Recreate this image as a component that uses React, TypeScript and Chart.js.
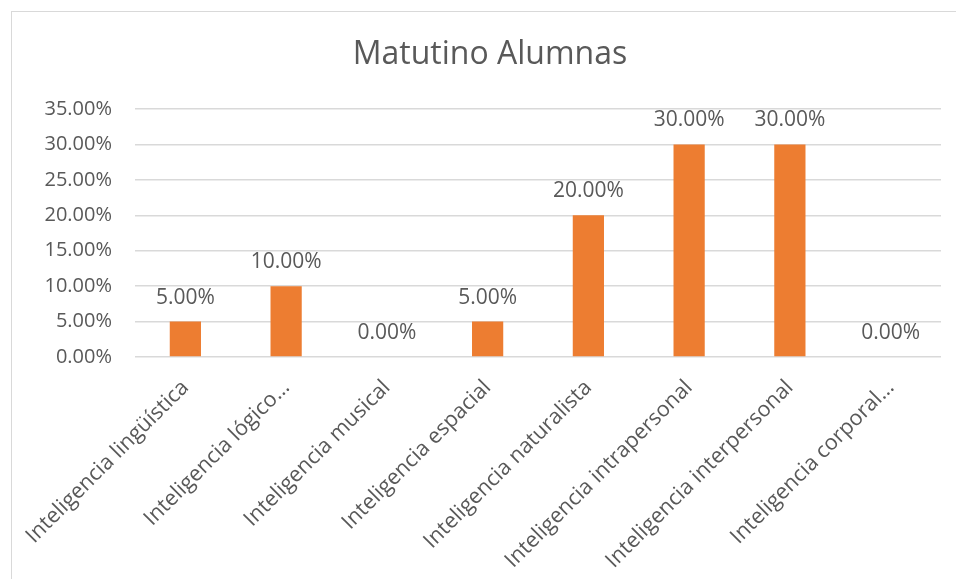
import React, { useEffect, useRef } from "react";
import { Chart, registerables } from "chart.js";

Chart.register(...registerables);

const categories = [
  "Inteligencia lingüística",
  "Inteligencia lógico…",
  "Inteligencia musical",
  "Inteligencia espacial",
  "Inteligencia naturalista",
  "Inteligencia intrapersonal",
  "Inteligencia interpersonal",
  "Inteligencia corporal…",
];
const values = [0.05, 0.1, 0, 0.05, 0.2, 0.3, 0.3, 0];
const yMin = 0;
const yMax = 0.35;
const yStep = 0.05;
const title = "Matutino Alumnas";

const FONT = "'Segoe UI', 'Open Sans', sans-serif";
const TEXT = "#595959";
const fmt = (v: number) => (v * 100).toFixed(2) + "%";

const labelPlugin = {
  id: "valueLabels",
  afterDatasetsDraw(chart: any) {
    const ctx = chart.ctx;
    ctx.save();
    ctx.font = `21px ${FONT}`;
    ctx.fillStyle = TEXT;
    ctx.textAlign = "center";
    ctx.textBaseline = "alphabetic";
    chart.data.datasets.forEach((ds: any, i: number) => {
      const meta = chart.getDatasetMeta(i);
      meta.data.forEach((el: any, j: number) => {
        ctx.fillText(fmt(ds.data[j]), el.x, el.y - 18);
      });
    });
    ctx.restore();
  },
};

export default function App() {
  const ref = useRef<HTMLCanvasElement | null>(null);
  useEffect(() => {
    if (!ref.current) return;
    const chart = new Chart(ref.current, {
      type: "bar",
      data: {
        labels: categories,
        datasets: [
          {
            data: values,
            backgroundColor: "#ED7D31",
            borderWidth: 0,
            categoryPercentage: 1,
            barPercentage: 0.31,
            yAxisID: "y",
          },
        ],
      },
      plugins: [labelPlugin],
      options: {
        responsive: false,
        animation: false,
        layout: { padding: 0 },
        plugins: {
          legend: { display: false },
          tooltip: { enabled: false },
          title: {
            display: true,
            text: title,
            color: TEXT,
            font: { family: FONT, size: 32, weight: "normal", lineHeight: 1.2 },
            padding: { top: 24, bottom: 34.6 },
          },
        },
        scales: {
          x: {
            grid: { display: false },
            border: { display: false },
            ticks: {
              color: TEXT,
              font: { family: FONT, size: 21.5 },
              minRotation: 45,
              maxRotation: 45,
              autoSkip: false,
              padding: 10,
            },
            afterFit: (scale: any) => {
              scale.height = 225;
            },
          },
          y: {
            min: yMin,
            max: yMax,
            grid: { color: "#d9d9d9", lineWidth: 1.5, drawTicks: false },
            border: { display: false },
            ticks: {
              stepSize: yStep,
              color: TEXT,
              font: { family: FONT, size: 20 },
              padding: 23,
              callback: (v: any) => fmt(Number(v)),
            },
            afterFit: (scale: any) => {
              scale.width = 123;
            },
          },
          yRight: {
            type: "linear",
            position: "right",
            display: true,
            grid: { display: false, drawTicks: false },
            border: { display: false },
            ticks: { display: false },
            afterFit: (scale: any) => {
              scale.width = 27;
            },
          },
        },
      },
    });
    return () => chart.destroy();
  }, []);
  return (
    <div
      style={{
        position: "fixed",
        left: 11,
        top: 11,
        width: 970,
        height: 600,
        border: "1px solid #d9d9d9",
        background: "#fff",
      }}
    >
      <canvas ref={ref} width={956} height={570} style={{ display: "block", width: 956, height: 570 }} />
    </div>
  );
}
